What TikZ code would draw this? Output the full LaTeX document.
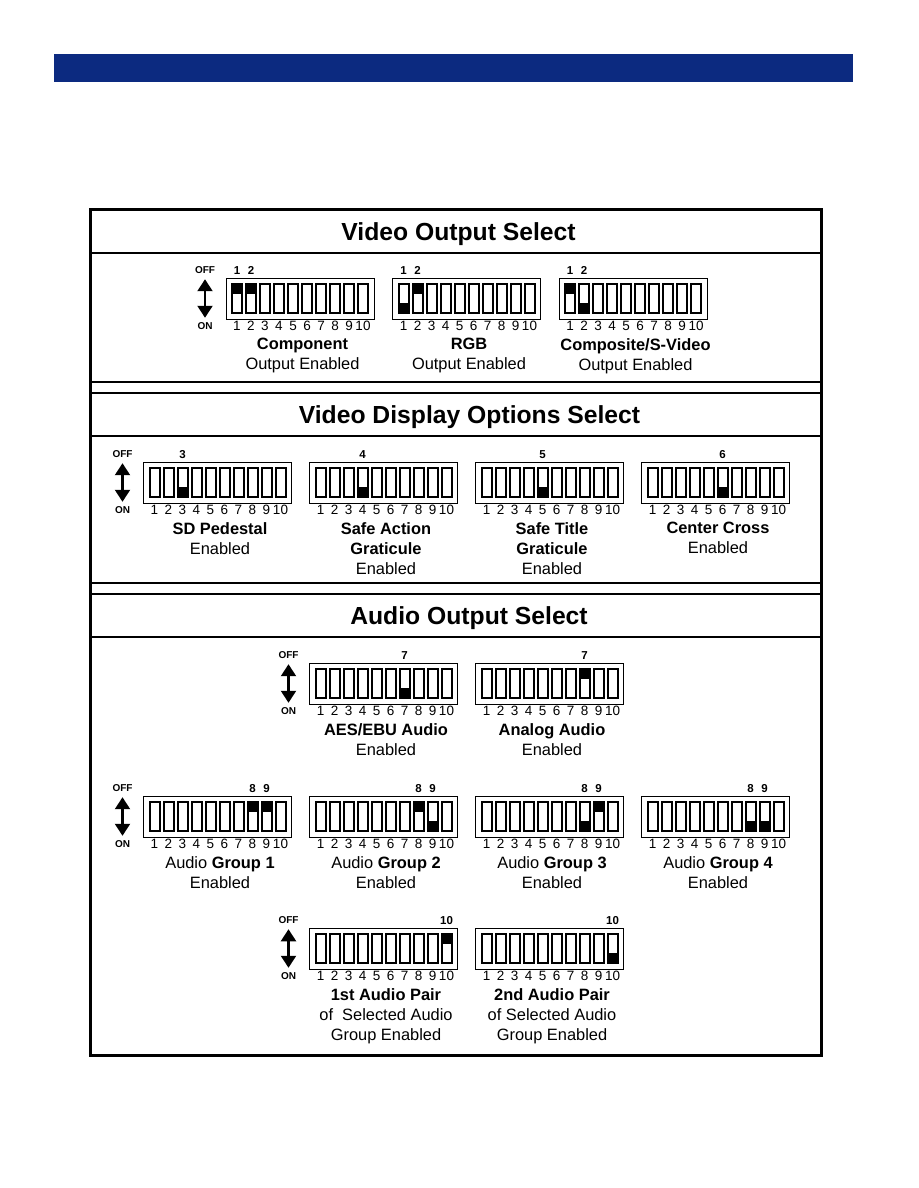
\documentclass[tikz,border=0pt]{standalone}
\usepackage{fontspec}
\setmainfont{Liberation Sans}
\usepackage{tikz}
\usetikzlibrary{arrows.meta}
\usepackage{xcolor}
\definecolor{barblue}{RGB}{12,42,128}

% one 10-way switch: name, left, top, slots set (slot/offset)
\newcommand{\dipswitch}[4]{%
  \draw[swbox] (#2,#3) rectangle ++(148,41);
  \foreach \slot/\pos in {#4}
    \fill ({#2+6+(\slot-1)*14},{#3+5.5+\pos}) rectangle ++(10,10.5);
  \foreach \slot in {1,...,10}{
    \draw[swslot] ({#2+6+(\slot-1)*14},{#3+5.5}) rectangle ++(10,29.5);
    \node[swnum] (#1-\slot) at ({#2+11+(\slot-1)*14},{#3+48}) {\slot};
  }%
}
% OFF/ON marker: name, x, top
\newcommand{\offon}[3]{%
  \node[offtxt] (#1-off) at (#2,#3-7.5) {OFF};
  \node[offtxt] (#1-on) at (#2,#3+48) {ON};
  \draw[updown] (#1-off) -- (#1-on);
}

\begin{document}
\begin{tikzpicture}[x=1pt,y=-1pt,
  swbox/.style={line width=1pt},
  swslot/.style={line width=2pt},
  swnum/.style={inner sep=0pt,font=\fontsize{13.5}{15}\selectfont},
  bitnum/.style={inner sep=0pt,font=\fontsize{11.5}{13}\selectfont\bfseries},
  offtxt/.style={inner sep=0pt,font=\fontsize{10}{11}\selectfont\bfseries},
  updown/.style={{Triangle[width=15pt,length=12pt]}-{Triangle[width=15pt,length=12pt]},line width=2.2pt,shorten <=5pt,shorten >=4.5pt},
  swtext/.style={inner sep=0pt,anchor=north,align=center,font=\fontsize{16.4}{20}\selectfont},
  headtext/.style={inner sep=0pt,anchor=base,font=\fontsize{24.7}{29}\selectfont\bfseries},
  divider/.style={line width=2pt}]
\useasboundingbox (0,0) rectangle (918,1188);
\fill[barblue] (54,54) rectangle (853,82);
\draw[line width=3pt] (90,209) rectangle (821,1055);
\draw[divider] (90,253) -- (821,253);
\draw[divider] (90,382) -- (821,382);
\draw[divider] (90,393) -- (821,393);
\draw[divider] (90,436) -- (821,436);
\draw[divider] (90,583) -- (821,583);
\draw[divider] (90,594) -- (821,594);
\draw[divider] (90,637) -- (821,637);

% Video Output Select
\node[headtext] (head-vout) at (458.5,240) {Video Output Select};
\offon{vo}{205}{278}
\dipswitch{comp}{226}{278}{1/0,2/0}
\node[bitnum] (comp-b1) at (237,270.5) {1};
\node[bitnum] (comp-b2) at (251,270.5) {2};
\node[swtext] (comp-txt) at (302.5,338) {\textbf{Component}\\Output Enabled};
\dipswitch{rgb}{392.5}{278}{1/19,2/0}
\node[bitnum] (rgb-b1) at (403.5,270.5) {1};
\node[bitnum] (rgb-b2) at (417.5,270.5) {2};
\node[swtext] (rgb-txt) at (469,338) {\textbf{RGB}\\Output Enabled};
\dipswitch{csv}{559}{278}{1/0,2/19}
\node[bitnum] (csv-b1) at (570,270.5) {1};
\node[bitnum] (csv-b2) at (584,270.5) {2};
\node[swtext] (csv-txt) at (635.5,338) {\textbf{Composite/S-Video}\\Output Enabled};

% Video Display Options Select
\node[headtext] (head-vdisp) at (469.5,423.5) {Video Display Options Select};
\offon{vd}{122.5}{462}
\dipswitch{sdp}{143.5}{462}{3/19}
\node[bitnum] (sdp-b3) at (182.5,454.5) {3};
\node[swtext] (sdp-txt) at (220,522) {\textbf{SD Pedestal}\\Enabled};
\dipswitch{sag}{309.5}{462}{4/19}
\node[bitnum] (sag-b4) at (362.5,454.5) {4};
\node[swtext] (sag-txt) at (386,522) {\textbf{Safe Action}\\\textbf{Graticule}\\Enabled};
\dipswitch{stg}{475.5}{462}{5/19}
\node[bitnum] (stg-b5) at (542.5,454.5) {5};
\node[swtext] (stg-txt) at (552,522) {\textbf{Safe Title}\\\textbf{Graticule}\\Enabled};
\dipswitch{ccr}{641.5}{462}{6/19}
\node[bitnum] (ccr-b6) at (722.5,454.5) {6};
\node[swtext] (ccr-txt) at (718,522) {\textbf{Center Cross}\\Enabled};

% Audio Output Select
\node[headtext] (head-aout) at (469,624.5) {Audio Output Select};
\offon{ao}{288.5}{663}
\dipswitch{aes}{309.5}{663}{7/19}
\node[bitnum] (aes-b7) at (404.5,655.5) {7};
\node[swtext] (aes-txt) at (386,723) {\textbf{AES/EBU Audio}\\Enabled};
\dipswitch{ana}{475.5}{663}{8/0}
\node[bitnum] (ana-b7) at (584.5,655.5) {7};
\node[swtext] (ana-txt) at (552,723) {\textbf{Analog Audio}\\Enabled};

\offon{ag}{122.5}{796}
\dipswitch{grpa}{143.5}{796}{8/0,9/0}
\node[bitnum] (grpa-b8) at (252.5,788.5) {8};
\node[bitnum] (grpa-b9) at (266.5,788.5) {9};
\node[swtext] (grpa-txt) at (220,856) {Audio \textbf{Group 1}\\Enabled};
\dipswitch{grpb}{309.5}{796}{8/0,9/19}
\node[bitnum] (grpb-b8) at (418.5,788.5) {8};
\node[bitnum] (grpb-b9) at (432.5,788.5) {9};
\node[swtext] (grpb-txt) at (386,856) {Audio \textbf{Group 2}\\Enabled};
\dipswitch{grpc}{475.5}{796}{8/19,9/0}
\node[bitnum] (grpc-b8) at (584.5,788.5) {8};
\node[bitnum] (grpc-b9) at (598.5,788.5) {9};
\node[swtext] (grpc-txt) at (552,856) {Audio \textbf{Group 3}\\Enabled};
\dipswitch{grpd}{641.5}{796}{8/19,9/19}
\node[bitnum] (grpd-b8) at (750.5,788.5) {8};
\node[bitnum] (grpd-b9) at (764.5,788.5) {9};
\node[swtext] (grpd-txt) at (718,856) {Audio \textbf{Group 4}\\Enabled};

\offon{ap}{288.5}{928}
\dipswitch{pra}{309.5}{928}{10/0}
\node[bitnum] (pra-b10) at (446.5,920.5) {10};
\node[swtext] (pra-txt) at (386,988) {\textbf{1st Audio Pair}\\of~\ Selected Audio\\Group Enabled};
\dipswitch{prb}{475.5}{928}{10/19}
\node[bitnum] (prb-b10) at (612.5,920.5) {10};
\node[swtext] (prb-txt) at (552,988) {\textbf{2nd Audio Pair}\\of Selected Audio\\Group Enabled};
\end{tikzpicture}
\end{document}
